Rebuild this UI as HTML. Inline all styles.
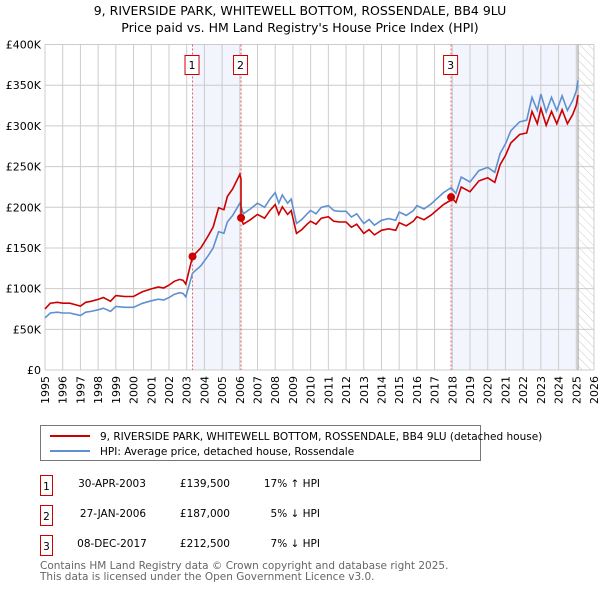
<!DOCTYPE html>
<html><head><meta charset="utf-8"><style>
body{margin:0;background:#fff;font-family:"Liberation Sans","DejaVu Sans",sans-serif;}
svg{display:block}
</style></head><body>
<svg id="chart" width="600" height="590" viewBox="0 0 600 590" font-family="'DejaVu Sans','Liberation Sans',sans-serif">
<defs>
<pattern id="hatch" width="6" height="6" patternUnits="userSpaceOnUse" patternTransform="rotate(-45)">
<line x1="0" y1="0" x2="0" y2="6" stroke="#ccc" stroke-width="1"/>
</pattern>
</defs>
<text x="300" y="15" text-anchor="middle" font-size="12.5" fill="#000">9, RIVERSIDE PARK, WHITEWELL BOTTOM, ROSSENDALE, BB4 9LU</text>
<text x="300" y="32" text-anchor="middle" font-size="12.5" fill="#000">Price paid vs. HM Land Registry's House Price Index (HPI)</text>
<g id="plot"></g>
<g>
<rect x="40.5" y="425.5" width="440" height="35" fill="#fff" stroke="#777"/>
<line x1="50" y1="436" x2="90" y2="436" stroke="#cc0000" stroke-width="2"/>
<text x="100" y="440" font-size="10.5">9, RIVERSIDE PARK, WHITEWELL BOTTOM, ROSSENDALE, BB4 9LU (detached house)</text>
<line x1="50" y1="451" x2="90" y2="451" stroke="#6090d0" stroke-width="2"/>
<text x="100" y="455" font-size="10.5">HPI: Average price, detached house, Rossendale</text>
</g>
<g font-size="10.5">
<g>
<rect x="40.5" y="475.5" width="12" height="20" fill="#fff" stroke="#cc0000"/><text x="46.5" y="490" text-anchor="middle">1</text>
<text x="112" y="487" text-anchor="middle">30-APR-2003</text><text x="230" y="487" text-anchor="end">£139,500</text><text x="320" y="487" text-anchor="end">17% ↑ HPI</text></g>
<g>
<rect x="40.5" y="505.5" width="12" height="20" fill="#fff" stroke="#cc0000"/><text x="46.5" y="520" text-anchor="middle">2</text>
<text x="113" y="517" text-anchor="middle">27-JAN-2006</text><text x="230" y="517" text-anchor="end">£187,000</text><text x="320" y="517" text-anchor="end">5% ↓ HPI</text></g>
<g>
<rect x="40.5" y="535.5" width="12" height="20" fill="#fff" stroke="#cc0000"/><text x="46.5" y="550" text-anchor="middle">3</text>
<text x="112" y="547" text-anchor="middle">08-DEC-2017</text><text x="230" y="547" text-anchor="end">£212,500</text><text x="320" y="547" text-anchor="end">7% ↓ HPI</text></g>
</g>
<text x="40" y="569" font-size="10.5" fill="#666">Contains HM Land Registry data © Crown copyright and database right 2025.</text>
<text x="40" y="580" font-size="10.5" fill="#666">This data is licensed under the Open Government Licence v3.0.</text>
</svg>
<script>
const hpiDates=[1995.0,1995.3,1995.7,1996.0,1996.4,1996.8,1997.0,1997.3,1997.6,1998.0,1998.3,1998.7,1999.0,1999.5,2000.0,2000.5,2001.0,2001.4,2001.7,2002.0,2002.3,2002.6,2002.8,2002.95,2003.33,2003.8,2004.2,2004.5,2004.8,2005.1,2005.3,2005.6,2006.0,2006.2,2006.6,2007.0,2007.4,2007.7,2008.0,2008.2,2008.4,2008.7,2008.9,2009.2,2009.5,2009.8,2010.0,2010.3,2010.6,2011.0,2011.3,2011.6,2012.0,2012.3,2012.6,2013.0,2013.3,2013.6,2014.0,2014.4,2014.8,2015.0,2015.4,2015.8,2016.0,2016.4,2016.8,2017.0,2017.5,2017.93,2018.2,2018.5,2019.0,2019.5,2020.0,2020.4,2020.7,2021.0,2021.3,2021.8,2022.2,2022.5,2022.8,2023.0,2023.3,2023.6,2023.9,2024.2,2024.5,2024.8,2025.0,2025.1];
const hpiValues=[64,70,71,70,70,68,67,71,72,74,76,72,78,77,77,82,85,87,86,89,93,95,94,90,119,128,140,150,170,168,182,190,205,192,198,205,200,210,218,205,215,205,210,180,185,192,196,192,200,202,196,195,195,188,192,180,185,178,184,186,184,194,190,196,202,198,204,208,218,224,217,237,231,245,249,243,266,278,294,305,307,335,319,339,317,335,319,337,319,331,343,356];
const saleDates=[2003.33,2006.07,2017.93];
const salePrices=[139.5,187.0,212.5];
const yTicks=[0,50,100,150,200,250,300,350,400];
const yTickLabels=["£0","£50K","£100K","£150K","£200K","£250K","£300K","£350K","£400K"];
const xYears=[1995,1996,1997,1998,1999,2000,2001,2002,2003,2004,2005,2006,2007,2008,2009,2010,2011,2012,2013,2014,2015,2016,2017,2018,2019,2020,2021,2022,2023,2024,2025,2026];
const dataEnd=2025.1;

const X0=45,X1=594,Y0=370,Y1=44.5;
const xs=t=>X0+(t-1995)/(2026-1995)*(X1-X0);
const ys=v=>Y0-v/400*(Y0-Y1);
const NS="http://www.w3.org/2000/svg";
const plot=document.getElementById('plot');
function mk(tag,attrs,parent){const e=document.createElementNS(NS,tag);for(const k in attrs)e.setAttribute(k,attrs[k]);(parent||plot).appendChild(e);return e;}
function hpiAt(t){for(let i=1;i<hpiDates.length;i++){if(t<=hpiDates[i]){const a=hpiDates[i-1],b=hpiDates[i];return hpiValues[i-1]+(hpiValues[i]-hpiValues[i-1])*(t-a)/(b-a);}}return hpiValues[hpiValues.length-1];}

const b1=mk('rect',{x:xs(saleDates[0]),y:Y1,width:xs(saleDates[1])-xs(saleDates[0]),height:Y0-Y1,fill:'#f2f5fd'});


const b2=mk('rect',{x:xs(saleDates[2]),y:Y1,width:xs(dataEnd)-xs(saleDates[2]),height:Y0-Y1,fill:'#f2f5fd'});


const hz=mk('rect',{x:xs(dataEnd),y:Y1,width:X1-xs(dataEnd),height:Y0-Y1,fill:'url(#hatch)'});



xYears.forEach(y=>{const l=mk('line',{x1:xs(y),x2:xs(y),y1:Y1,y2:Y0,stroke:'#ccc','stroke-width':1});


const t=mk('text',{x:0,y:0,'font-size':11,'text-anchor':'end',transform:`translate(${xs(y)+4},${Y0+6}) rotate(-90)`});t.textContent=y;

});
yTicks.forEach((v,i)=>{const l=mk('line',{x1:X0,x2:X1,y1:ys(v),y2:ys(v),stroke:'#ccc','stroke-width':1});


const t=mk('text',{x:X0-4,y:ys(v)+4,'font-size':11,'text-anchor':'end'});t.textContent=yTickLabels[i];

});
const el=mk('line',{x1:xs(dataEnd),x2:xs(dataEnd),y1:Y1,y2:Y0,stroke:'#999','stroke-width':1});



saleDates.forEach((d,i)=>{const l=mk('line',{x1:xs(d),x2:xs(d),y1:Y1,y2:Y0,stroke:'#e06060','stroke-width':1,'stroke-dasharray':'2,2'});


const r=mk('rect',{x:xs(d)-7.5,y:55.5,width:14,height:19,fill:'#fff',stroke:'#cc0000'});


const t=mk('text',{x:xs(d)-0.5,y:69,'font-size':11,'text-anchor':'middle'});t.textContent=i+1;

});

const hp=mk('path',{d:hpiDates.map((d,i)=>(i?'L':'M')+xs(d).toFixed(1)+','+ys(hpiValues[i]).toFixed(1)).join(''),fill:'none',stroke:'#6090d0','stroke-width':1.6});



const f=saleDates.map((d,i)=>salePrices[i]/hpiAt(d));
let pts=[];
const allT=[...hpiDates,...saleDates].sort((a,b)=>a-b);
allT.forEach(t=>{
  if(t<saleDates[1]) pts.push([t,hpiAt(t)*f[0]]);
  else if(t<saleDates[2]){ if(t===saleDates[1]) pts.push([t,hpiAt(t)*f[0]]); pts.push([t,hpiAt(t)*f[1]]);}
  else { if(t===saleDates[2]) pts.push([t,hpiAt(t)*f[1]]); pts.push([t,hpiAt(t)*f[2]]);}
});
const pp=mk('path',{d:pts.map((p,i)=>(i?'L':'M')+xs(p[0]).toFixed(1)+','+ys(p[1]).toFixed(1)).join(''),fill:'none',stroke:'#cc0000','stroke-width':1.6});


saleDates.forEach((d,i)=>{const c=mk('circle',{cx:xs(d),cy:ys(salePrices[i]),r:4,fill:'#cc0000'});

});
</script>
</body></html>
